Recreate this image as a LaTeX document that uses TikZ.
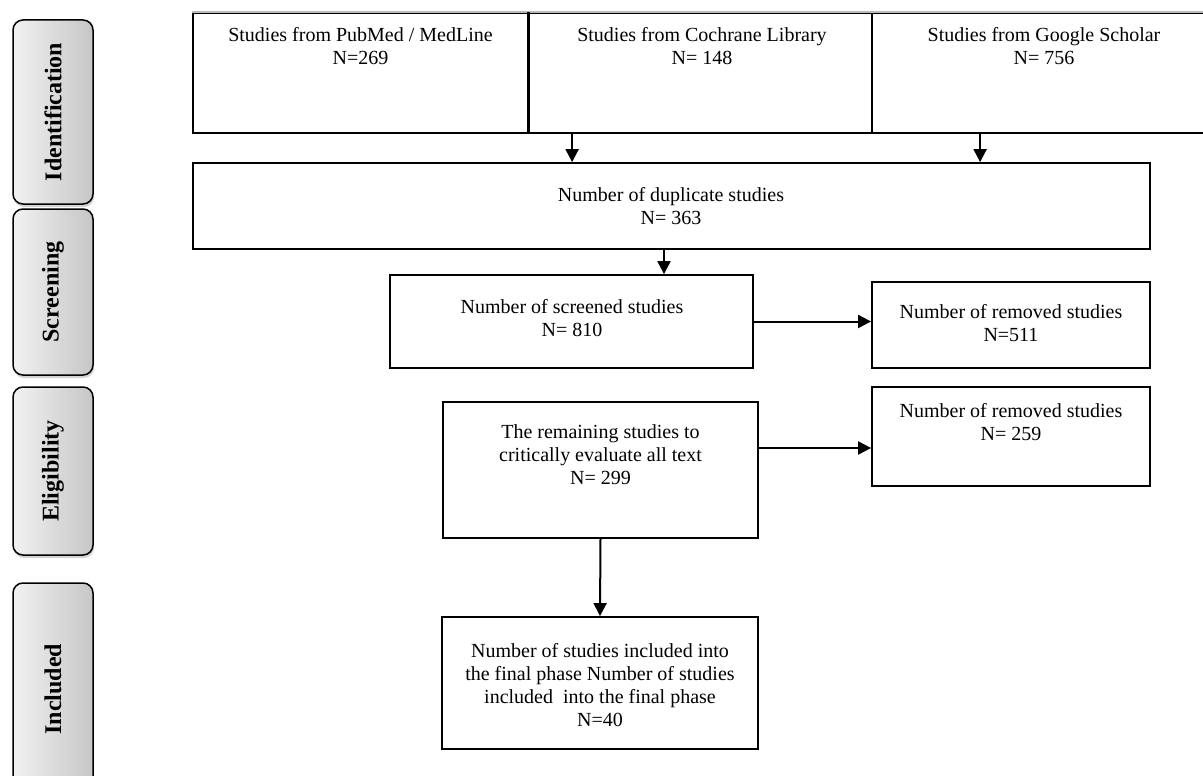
\documentclass[tikz,border=0pt]{standalone}
\usepackage{fontspec}
\setmainfont{Liberation Serif}
\usetikzlibrary{arrows.meta,shadows}
\begin{document}
\begin{tikzpicture}[x=1pt,y=-1pt,
  box/.style={draw=black, line width=1.8pt, rectangle, inner sep=0pt},
  txt/.style={align=center, font=\fontsize{20}{23}\selectfont, inner sep=0pt},
  phase/.style={draw=black, line width=1.5pt, rounded corners=10pt,
    left color=gray!10, right color=gray!45, minimum width=80pt,
    drop shadow={shadow xshift=1pt, shadow yshift=-3pt, opacity=0.35},
    inner sep=0pt},
  phasetxt/.style={rotate=90, font=\fontsize{24}{28}\selectfont\bfseries, inner sep=0pt},
  arr/.style={line width=2pt, -{Triangle[length=13pt,width=13pt]}}]
\useasboundingbox (0,0) rectangle (1203,776);

% phase labels
\node[phase, minimum height=184pt] (p1) at (53,112) {};
\node[phasetxt] (p1t) at (p1.center) {Identification};
\node[phase, minimum height=166pt] (p2) at (53,292) {};
\node[phasetxt] (p2t) at (p2.center) {Screening};
\node[phase, minimum height=168pt] (p3) at (53,471) {};
\node[phasetxt] (p3t) at (p3.center) {Eligibility};
\node[phase, minimum height=212pt] (p4) at (53,689) {};
\node[phasetxt] (p4t) at (p4.center) {Included};

% top boxes
\node[box, minimum width=335pt, minimum height=120pt] (b1) at (360.5,73) {};
\node[box, minimum width=344pt, minimum height=120pt] (b2) at (700,73) {};
\node[box, minimum width=338pt, minimum height=120pt] (b3) at (1041,73) {};
\draw[gray!55, line width=1.8pt] (b1.north west) -- (b3.north east);
\draw[line width=3pt] (b1.north east) -- (b1.south east);
\node[txt] (t1) at (360.5,46) {Studies from PubMed / MedLine\\N=269};
\node[txt] (t2) at (702,46) {Studies from Cochrane Library\\N= 148};
\node[txt] (t3) at (1044,46) {Studies from Google Scholar\\N= 756};

% duplicates
\node[box, minimum width=957pt, minimum height=86pt] (dup) at (671.5,206) {};
\node[txt] (tdup) at (671,206) {Number of duplicate studies\\N= 363};

% screened
\node[box, minimum width=363pt, minimum height=93pt] (scr) at (571.5,321.5) {};
\node[txt] (tscr) at (572,318) {Number of screened studies\\N= 810};

% removed 1
\node[box, minimum width=278pt, minimum height=86pt] (rem1) at (1011,325) {};
\node[txt] (trem1) at (1011,323) {Number of removed studies\\N=511};

% remaining
\node[box, minimum width=315pt, minimum height=136pt] (rv) at (600.5,470) {};
\node[txt] (trv) at (600.5,455) {The remaining studies to\\critically evaluate all text\\N= 299};

% removed 2
\node[box, minimum width=278pt, minimum height=99pt] (rem2) at (1011,436.5) {};
\node[txt] (trem2) at (1011,422.5) {Number of removed studies\\N= 259};

% included
\node[box, minimum width=316pt, minimum height=132pt] (inc) at (600,683) {};
\node[txt] (tinc) at (600,685) {Number of studies included into\\the final phase Number of studies\\included~ into the final phase\\N=40};

% arrows
\coordinate (a1) at ([xshift=45pt]b2.south west);
\coordinate (a2) at ([xshift=109pt]b3.south west);
\draw[arr] (a1) -- (a1 |- dup.north);
\draw[arr] (a2) -- (a2 |- dup.north);
\coordinate (a3) at ([xshift=92.5pt]scr.north);
\draw[arr] (dup.south -| a3) -- (a3);
\draw[arr] (scr.east) -- (scr.east -| rem1.west);
\coordinate (a4) at ([yshift=22pt]rv.east);
\draw[arr] (a4) -- (a4 -| rem2.west);
\draw[arr] (rv.south) -- (inc.north);
\end{tikzpicture}
\end{document}
